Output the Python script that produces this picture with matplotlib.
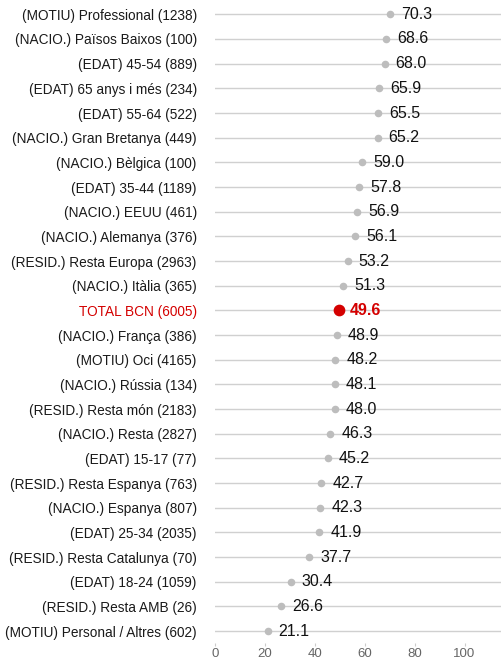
#!/usr/bin/env python3
import matplotlib
matplotlib.use("Agg")
import matplotlib.pyplot as plt
import numpy as np

plt.rcParams['font.family'] = ['Liberation Sans', 'DejaVu Sans']

categories = [
    "(MOTIU) Professional (1238)",
    "(NACIO.) Països Baixos (100)",
    "(EDAT) 45-54 (889)",
    "(EDAT) 65 anys i més (234)",
    "(EDAT) 55-64 (522)",
    "(NACIO.) Gran Bretanya (449)",
    "(NACIO.) Bèlgica (100)",
    "(EDAT) 35-44 (1189)",
    "(NACIO.) EEUU (461)",
    "(NACIO.) Alemanya (376)",
    "(RESID.) Resta Europa (2963)",
    "(NACIO.) Itàlia (365)",
    "TOTAL BCN (6005)",
    "(NACIO.) França (386)",
    "(MOTIU) Oci (4165)",
    "(NACIO.) Rússia (134)",
    "(RESID.) Resta món (2183)",
    "(NACIO.) Resta (2827)",
    "(EDAT) 15-17 (77)",
    "(RESID.) Resta Espanya (763)",
    "(NACIO.) Espanya (807)",
    "(EDAT) 25-34 (2035)",
    "(RESID.) Resta Catalunya (70)",
    "(EDAT) 18-24 (1059)",
    "(RESID.) Resta AMB (26)",
    "(MOTIU) Personal / Altres (602)",
]
values = [70.3, 68.6, 68.0, 65.9, 65.5, 65.2, 59.0, 57.8, 56.9, 56.1, 53.2,
          51.3, 49.6, 48.9, 48.2, 48.1, 48.0, 46.3, 45.2, 42.7, 42.3, 41.9,
          37.7, 30.4, 26.6, 21.1]
highlight = "TOTAL BCN (6005)"
xticks = [0, 20, 40, 60, 80, 100]

n = len(categories)
fig = plt.figure(figsize=(5.02, 6.62), dpi=100)
ax = fig.add_axes([0.428, 0.028, 0.572, 0.969])

ypos = np.arange(n)
for y in ypos:
    ax.axhline(y, color='#d0d0d0', lw=1, zorder=1)

for y, cat, v in zip(ypos, categories, values):
    if cat == highlight:
        ax.scatter(v, y, s=55, color='#d40000', zorder=3)
        ax.text(v + 4.4, y, "%.1f" % v, va='center', ha='left', fontsize=11.5,
                color='#d40000', fontweight='bold', zorder=4)
    else:
        ax.scatter(v, y, s=20, color='#bdbdbd', zorder=3)
        ax.text(v + 4.4, y, "%.1f" % v, va='center', ha='left', fontsize=11.5,
                color='#111111', zorder=4)

ax.set_yticks(ypos)
ax.set_yticklabels(categories, fontsize=9.8, color='#1a1a1a')
for lbl in ax.get_yticklabels():
    if lbl.get_text() == highlight:
        lbl.set_color('#d40000')
ax.tick_params(axis='y', length=0, pad=13)
ax.set_ylim(n - 0.5, -0.5)

ax.set_xlim(0, 115)
ax.set_xticks(xticks)
ax.tick_params(axis='x', colors='#666666', labelsize=9.5, length=2, pad=1.5,
               color='#cccccc')

for s in ax.spines.values():
    s.set_visible(False)

fig.savefig('out.png', dpi=100)
